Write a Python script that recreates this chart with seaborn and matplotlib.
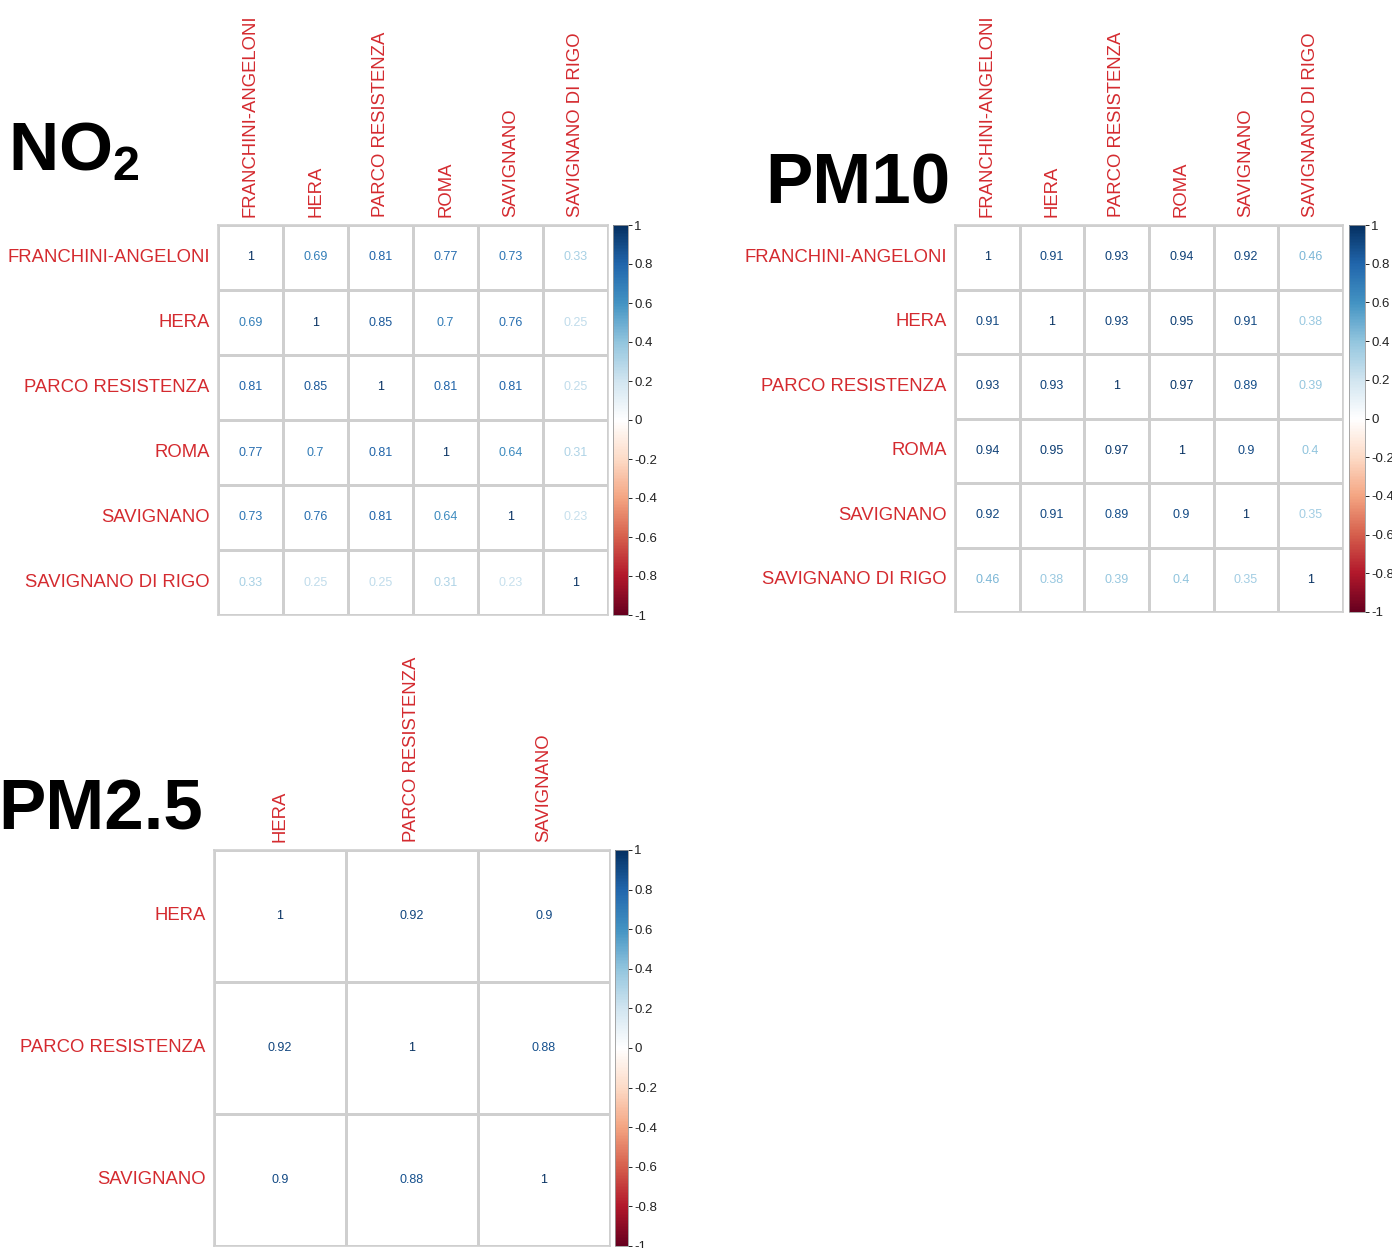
import numpy as np
import pandas as pd
import seaborn as sns
import matplotlib.pyplot as plt
from matplotlib.colors import LinearSegmentedColormap, ListedColormap, Normalize
from matplotlib.cm import ScalarMappable

# station names
no2_stations = ['FRANCHINI-ANGELONI', 'HERA', 'PARCO RESISTENZA', 'ROMA', 'SAVIGNANO', 'SAVIGNANO DI RIGO']
pm10_stations = ['FRANCHINI-ANGELONI', 'HERA', 'PARCO RESISTENZA', 'ROMA', 'SAVIGNANO', 'SAVIGNANO DI RIGO']
pm25_stations = ['HERA', 'PARCO RESISTENZA', 'SAVIGNANO']

# correlation values
no2_corr = [
    [1, 0.69, 0.81, 0.77, 0.73, 0.33],
    [0.69, 1, 0.85, 0.7, 0.76, 0.25],
    [0.81, 0.85, 1, 0.81, 0.81, 0.25],
    [0.77, 0.7, 0.81, 1, 0.64, 0.31],
    [0.73, 0.76, 0.81, 0.64, 1, 0.23],
    [0.33, 0.25, 0.25, 0.31, 0.23, 1],
]
pm10_corr = [
    [1, 0.91, 0.93, 0.94, 0.92, 0.46],
    [0.91, 1, 0.93, 0.95, 0.91, 0.38],
    [0.93, 0.93, 1, 0.97, 0.89, 0.39],
    [0.94, 0.95, 0.97, 1, 0.9, 0.4],
    [0.92, 0.91, 0.89, 0.9, 1, 0.35],
    [0.46, 0.38, 0.39, 0.4, 0.35, 1],
]
pm25_corr = [
    [1, 0.92, 0.9],
    [0.92, 1, 0.88],
    [0.9, 0.88, 1],
]

cbar_ticks = [-1, -0.8, -0.6, -0.4, -0.2, 0, 0.2, 0.4, 0.6, 0.8, 1]
cbar_labels = ['-1', '-0.8', '-0.6', '-0.4', '-0.2', '0', '0.2', '0.4', '0.6', '0.8', '1']

sns.set_style('white')
plt.rcParams['font.family'] = ['Liberation Sans', 'DejaVu Sans']
plt.rcParams['mathtext.fontset'] = 'custom'
plt.rcParams['mathtext.bf'] = 'Liberation Sans:bold'
plt.rcParams['mathtext.rm'] = 'Liberation Sans'

# corrplot-like RdBu palette
rdbu = LinearSegmentedColormap.from_list('rdbu2', ['#67001F', '#B2182B', '#D6604D', '#F4A582', '#FDDBC7', '#FFFFFF',
                                                    '#D1E5F0', '#92C5DE', '#4393C3', '#2166AC', '#053061'])
norm = Normalize(vmin=-1, vmax=1)
label_red = '#D42A2F'
grid_col = '#CFCFCF'

W, H = 1392, 1248
fig = plt.figure(figsize=(W / 100, H / 100), dpi=100)


def box(x0, y0, x1, y1):
    # pixel box -> figure fraction
    return [x0 / W, 1 - y1 / H, (x1 - x0) / W, (y1 - y0) / H]


def draw_corr(ax, cax, values, labels):
    df = pd.DataFrame(values, index=labels, columns=labels)
    sns.heatmap(df, ax=ax, cmap=ListedColormap(['white']), cbar=False, annot=True, fmt='g',
                annot_kws={'fontsize': 9}, linewidths=1.0, linecolor=grid_col, square=False)
    for t in ax.texts:
        t.set_color(rdbu(norm(float(t.get_text()))))
    ax.xaxis.tick_top()
    ax.set_xlabel('')
    ax.set_ylabel('')
    ax.set_xticklabels(labels, rotation=90, ha='center', va='bottom', color=label_red, fontsize=13.3)
    ax.set_yticklabels(labels, rotation=0, ha='right', va='center', color=label_red, fontsize=13.3)
    ax.tick_params(length=0, pad=6)
    for s in ax.spines.values():
        s.set_visible(True)
        s.set_color(grid_col)
        s.set_linewidth(1.2)

    cb = fig.colorbar(ScalarMappable(norm=norm, cmap=rdbu), cax=cax, ticks=cbar_ticks)
    cb.set_ticklabels(cbar_labels)
    cb.outline.set_edgecolor('#999999')
    cb.outline.set_linewidth(0.6)
    cax.tick_params(labelsize=9.5, length=3, width=0.7, pad=1.5, colors='#222222')


ax1 = fig.add_axes(box(218, 225, 608, 615))
cax1 = fig.add_axes(box(613, 225, 628, 615))
draw_corr(ax1, cax1, no2_corr, no2_stations)

ax2 = fig.add_axes(box(955, 225, 1343, 612))
cax2 = fig.add_axes(box(1349, 225, 1365, 612))
draw_corr(ax2, cax2, pm10_corr, pm10_stations)

ax3 = fig.add_axes(box(214, 850, 610, 1246))
cax3 = fig.add_axes(box(615, 850, 628, 1246))
draw_corr(ax3, cax3, pm25_corr, pm25_stations)

fig.text(8 / W, 1 - 170 / H, r'$\mathbf{NO_2}$', fontsize=50, color='black', ha='left', va='baseline')
fig.text(765 / W, 1 - 203 / H, 'PM10', fontsize=51, fontweight='bold', color='black', ha='left', va='baseline')
fig.text(-2 / W, 1 - 830 / H, 'PM2.5', fontsize=51, fontweight='bold', color='black', ha='left', va='baseline')

plt.savefig('out.png', dpi=100)
